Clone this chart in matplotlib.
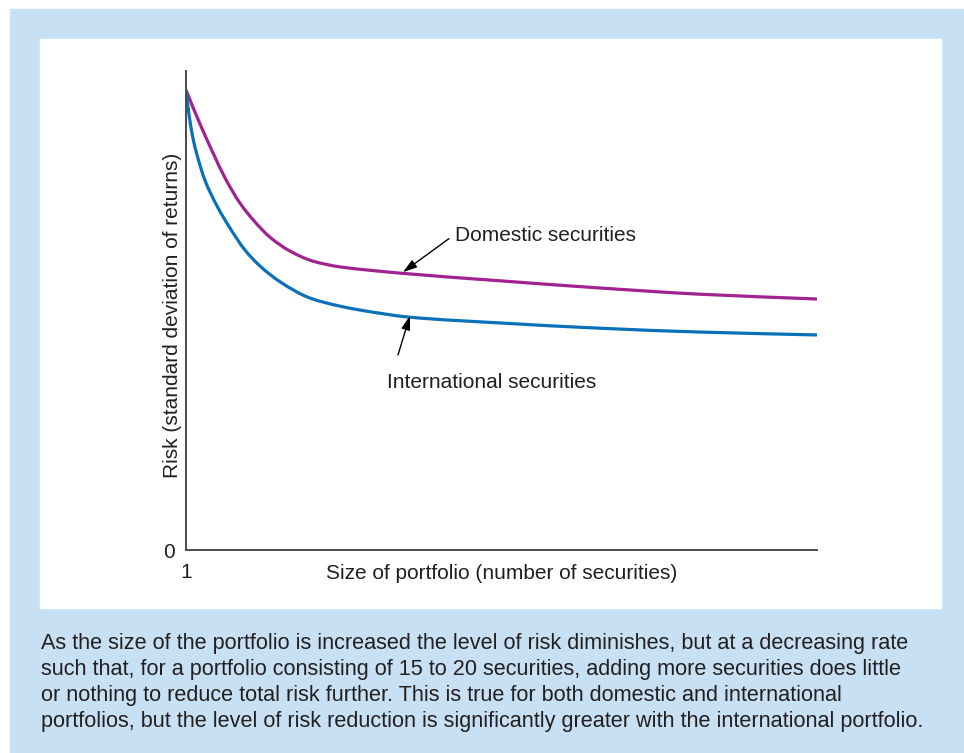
import numpy as np
import matplotlib.pyplot as plt
from matplotlib.patches import Rectangle, PathPatch
from matplotlib.path import Path

plt.rcParams['font.family'] = ['Liberation Sans', 'DejaVu Sans']

# portfolio size (number of securities) and risk
dom_n = [1.0, 1.87, 2.67, 3.41, 4.34, 5.26, 6.19, 7.43, 8.85, 10.52, 12.37,
         14.23, 20.41, 26.59, 32.77, 40.0]
dom_risk = [96.0, 88.9, 82.9, 77.7, 72.4, 68.5, 65.3, 62.4, 60.3, 59.1, 58.4,
            57.8, 56.2, 54.7, 53.4, 52.4]

int_n = [1.0, 1.19, 1.43, 1.68, 2.17, 2.92, 3.72, 4.65, 5.57, 6.81, 8.66,
         10.52, 11.75, 14.84, 20.41, 26.59, 32.77, 40.0]
int_risk = [96.0, 90.8, 86.0, 82.5, 77.2, 71.8, 67.2, 62.6, 59.3, 56.0, 52.6,
            50.9, 50.1, 48.6, 47.4, 46.3, 45.5, 44.9]

caption_lines = [
    "As the size of the portfolio is increased the level of risk diminishes, but at a decreasing rate",
    "such that, for a portfolio consisting of 15 to 20 securities, adding more securities does little",
    "or nothing to reduce total risk further. This is true for both domestic and international",
    "portfolios, but the level of risk reduction is significantly greater with the international portfolio.",
]

W, H = 964, 753
txt = '#231f20'


def smooth_path(x, y):
    # monotone cubic (Fritsch-Carlson) through the points, as bezier segments
    x = np.asarray(x, float)
    y = np.asarray(y, float)
    h = np.diff(x)
    d = np.diff(y) / h
    m = np.zeros_like(x)
    m[0], m[-1] = d[0], d[-1]
    for i in range(1, len(x) - 1):
        if d[i - 1] * d[i] > 0:
            w1 = 2 * h[i] + h[i - 1]
            w2 = h[i] + 2 * h[i - 1]
            m[i] = (w1 + w2) / (w1 / d[i - 1] + w2 / d[i])
    verts = [(x[0], y[0])]
    codes = [Path.MOVETO]
    for i in range(len(x) - 1):
        verts += [(x[i] + h[i] / 3, y[i] + m[i] * h[i] / 3),
                  (x[i + 1] - h[i] / 3, y[i + 1] - m[i + 1] * h[i] / 3),
                  (x[i + 1], y[i + 1])]
        codes += [Path.CURVE4] * 3
    return Path(verts, codes)


fig = plt.figure(figsize=(W / 100, H / 100), dpi=100)


def box(x0, y0, x1, y1, color):
    fig.patches.append(Rectangle((x0 / W, 1 - y1 / H), (x1 - x0) / W, (y1 - y0) / H,
                                 transform=fig.transFigure, color=color, zorder=-10))


box(10, 9, 964, 753, '#c8e0f3')
box(40, 39, 941, 608, 'white')

ax = fig.add_axes([186 / W, 1 - 550 / H, (817 - 186) / W, (550 - 71) / H])
ax.set_facecolor('none')

ax.add_patch(PathPatch(smooth_path(dom_n, dom_risk), fc='none', ec='#a0238f', lw=2.3))
ax.add_patch(PathPatch(smooth_path(int_n, int_risk), fc='none', ec='#0a71b9', lw=2.3))

ax.set_xlim(1, 40)
ax.set_ylim(0, 100)

for s in ['top', 'right']:
    ax.spines[s].set_visible(False)
for s in ['left', 'bottom']:
    ax.spines[s].set_color('#4a4a4a')
    ax.spines[s].set_linewidth(1.4)

ax.set_xticks([1])
ax.set_yticks([0])
ax.tick_params(length=0, labelsize=15, colors=txt)
ax.tick_params(axis='x', pad=9)
ax.tick_params(axis='y', pad=8)

ax.set_ylabel('Risk (standard deviation of returns)', fontsize=15, color=txt)
ax.yaxis.set_label_coords(-0.006, 0.49)
ax.set_xlabel('Size of portfolio (number of securities)', fontsize=15, color=txt)
ax.xaxis.set_label_coords(0.5, -0.030)

arrow = dict(arrowstyle='-|>,head_length=0.7,head_width=0.22', color='black', lw=1.0,
             mutation_scale=12, shrinkA=0, shrinkB=0)
ax.annotate('', xy=(14.41, 58.0), xytext=(17.25, 65.0), arrowprops=arrow)
ax.text(17.63, 65.6, 'Domestic securities', fontsize=15, color=txt, va='center', ha='left')
ax.annotate('', xy=(14.84, 48.9), xytext=(14.10, 40.7), arrowprops=arrow)
ax.text(13.42, 35.0, 'International securities', fontsize=15, color=txt, va='center', ha='left')

for i, line in enumerate(caption_lines):
    fig.text(41 / W, 1 - (643 + i * 26.3) / H, line, fontsize=15.6, color=txt,
             va='center', ha='left')

fig.savefig('out.png', dpi=100)
